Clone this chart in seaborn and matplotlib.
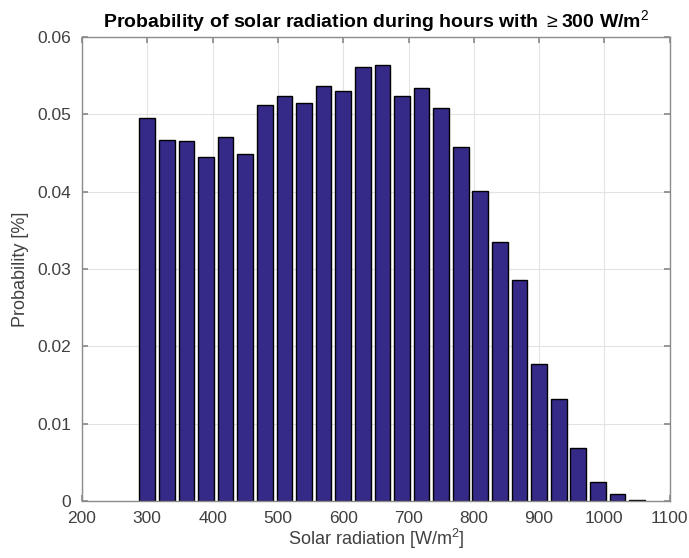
import matplotlib
matplotlib.use("Agg")
import matplotlib.pyplot as plt
import seaborn as sns
import numpy as np

radiation = [300, 330, 360, 390, 420, 450, 480, 510, 540, 570, 600, 630, 660,
             690, 720, 750, 780, 810, 840, 870, 900, 930, 960, 990, 1020, 1050]
probability = [0.0495, 0.0467, 0.0466, 0.0445, 0.0470, 0.0448, 0.0512, 0.0523,
               0.0515, 0.0537, 0.0530, 0.0561, 0.0564, 0.0524, 0.0534, 0.0508,
               0.0458, 0.0401, 0.0335, 0.0286, 0.0177, 0.0132, 0.0069, 0.0025,
               0.0009, 0.0001]
xticks = [200, 300, 400, 500, 600, 700, 800, 900, 1000, 1100]
yticks = [0, 0.01, 0.02, 0.03, 0.04, 0.05, 0.06]

sns.set_theme(style="white")
plt.rcParams['font.family'] = ['Liberation Sans', 'DejaVu Sans']
plt.rcParams['mathtext.fontset'] = 'custom'
plt.rcParams['mathtext.rm'] = 'Liberation Sans'
plt.rcParams['mathtext.bf'] = 'Liberation Sans:bold'

fig = plt.figure(figsize=(6.89, 5.58), dpi=100)
ax = fig.add_axes([0.119, 0.102, 0.853, 0.832])

sns.barplot(x=radiation, y=probability, native_scale=True, color="#352a87",
            saturation=1, edgecolor="black", linewidth=1.0, width=0.8, ax=ax)

ax.set_xlim(200, 1100)
ax.set_ylim(0, 0.06)
ax.set_xticks(xticks)
ax.set_xticklabels([str(t) for t in xticks])
ax.set_yticks(yticks)
ax.set_yticklabels(["0", "0.01", "0.02", "0.03", "0.04", "0.05", "0.06"])
ax.grid(True, color="#e3e3e3", linewidth=0.8)
ax.set_axisbelow(True)
for s in ax.spines.values():
    s.set_color("#8c8c8c")
    s.set_linewidth(1.0)
ax.tick_params(direction="in", length=4, color="#8c8c8c", labelsize=12.5,
               labelcolor="#404040", top=True, right=True, bottom=True, left=True,
               labeltop=False, labelright=False)
ax.tick_params(axis="x", pad=7)
ax.tick_params(axis="y", pad=8)
ax.set_xlabel("Solar radiation [W/m$^2$]", fontsize=13, color="#404040", labelpad=1)
ax.set_ylabel("Probability [%]", fontsize=13, color="#404040", labelpad=6)
ax.set_title(r"Probability of solar radiation during hours with $\geq$300 W/m$^2$",
             fontsize=14, fontweight="bold", color="black", pad=6)

fig.savefig("out.png", dpi=100)
